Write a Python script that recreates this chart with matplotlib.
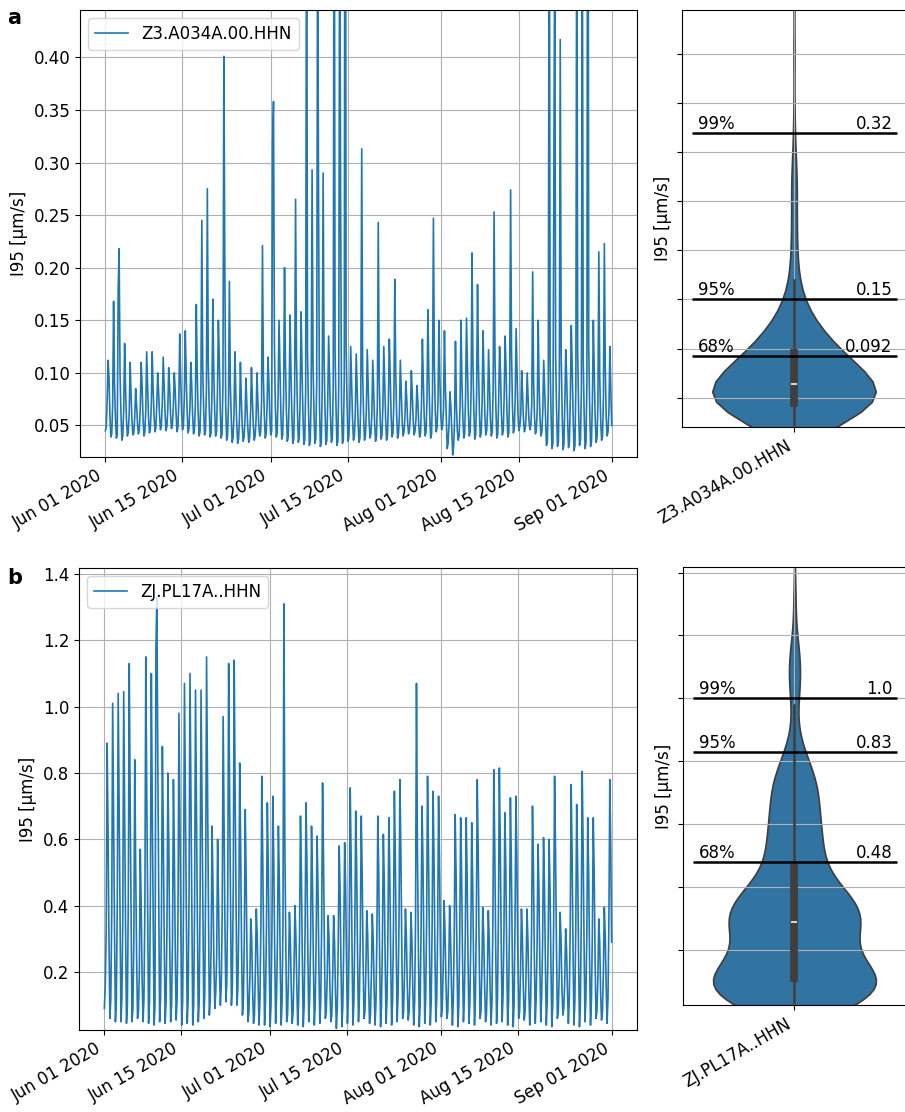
import numpy as np
import pandas as pd
import matplotlib
matplotlib.use("Agg")
import matplotlib.pyplot as plt
import matplotlib.dates as mdates
import seaborn as sns

plt.rcParams["font.family"] = ["DejaVu Sans"]
plt.rcParams["font.size"] = 12

# ---------------------------------------------------------------- data
start_day = "2020-06-01"
hours_of_day = [1, 5, 9, 13, 17, 21]   # one sample every four hours

station_a = "Z3.A034A.00.HHN"
station_b = "ZJ.PL17A..HHN"

# station a, I95 [um/s], one value per day for each time of day
a_night = [0.045, 0.039, 0.038, 0.036, 0.040, 0.041, 0.042, 0.040, 0.043, 0.044,
           0.046, 0.045, 0.047, 0.044, 0.046, 0.043, 0.042, 0.040, 0.041, 0.039,
           0.040, 0.038, 0.036, 0.034, 0.033, 0.035, 0.034, 0.036, 0.040, 0.038,
           0.041, 0.039, 0.037, 0.035, 0.033, 0.034, 0.032, 0.031, 0.033, 0.030,
           0.032, 0.034, 0.031, 0.033, 0.035, 0.036, 0.034, 0.036, 0.038, 0.035,
           0.037, 0.036, 0.039, 0.038, 0.040, 0.042, 0.041, 0.039, 0.040, 0.038,
           0.044, 0.046, 0.028, 0.022, 0.036, 0.038, 0.040, 0.037, 0.039, 0.041,
           0.040, 0.038, 0.041, 0.039, 0.043, 0.045, 0.044, 0.046, 0.042, 0.040,
           0.031, 0.028, 0.030, 0.027, 0.029, 0.026, 0.031, 0.028, 0.030, 0.034,
           0.036, 0.040]
a_dawn = [0.048, 0.042, 0.041, 0.040, 0.044, 0.043, 0.046, 0.044, 0.047, 0.048,
          0.050, 0.049, 0.051, 0.048, 0.050, 0.047, 0.046, 0.044, 0.045, 0.043,
          0.044, 0.042, 0.040, 0.038, 0.037, 0.039, 0.038, 0.040, 0.044, 0.042,
          0.045, 0.043, 0.041, 0.039, 0.037, 0.038, 0.036, 0.035, 0.037, 0.034,
          0.036, 0.038, 0.035, 0.037, 0.039, 0.040, 0.038, 0.040, 0.042, 0.039,
          0.041, 0.040, 0.043, 0.042, 0.044, 0.046, 0.045, 0.043, 0.044, 0.042,
          0.048, 0.050, 0.033, 0.030, 0.040, 0.042, 0.044, 0.041, 0.043, 0.045,
          0.044, 0.042, 0.045, 0.043, 0.047, 0.049, 0.048, 0.050, 0.046, 0.044,
          0.035, 0.033, 0.035, 0.032, 0.034, 0.031, 0.036, 0.033, 0.035, 0.038,
          0.040, 0.044]
a_morning = [0.075, 0.070, 0.180, 0.065, 0.062, 0.058, 0.066, 0.064, 0.068, 0.070,
             0.072, 0.066, 0.068, 0.074, 0.078, 0.066, 0.070, 0.080, 0.085, 0.078,
             0.082, 0.090, 0.070, 0.060, 0.058, 0.056, 0.060, 0.055, 0.072, 0.068,
             0.320, 0.080, 0.078, 0.074, 0.082, 0.076, 0.085, 0.080, 0.090, 0.084,
             0.072, 0.088, 0.090, 0.095, 0.066, 0.062, 0.075, 0.064, 0.060, 0.070,
             0.068, 0.072, 0.074, 0.060, 0.058, 0.062, 0.056, 0.070, 0.075, 0.080,
             0.074, 0.066, 0.052, 0.055, 0.070, 0.078, 0.082, 0.080, 0.072, 0.066,
             0.085, 0.074, 0.078, 0.090, 0.076, 0.060, 0.062, 0.070, 0.066, 0.064,
             0.080, 0.270, 0.090, 0.072, 0.078, 0.088, 0.084, 0.090, 0.074, 0.070,
             0.078, 0.065]
a_midday = [0.112, 0.168, 0.218, 0.128, 0.110, 0.085, 0.110, 0.120, 0.120, 0.100,
            0.115, 0.105, 0.100, 0.137, 0.140, 0.110, 0.165, 0.245, 0.275, 0.170,
            0.150, 0.401, 0.187, 0.120, 0.110, 0.095, 0.105, 0.100, 0.221, 0.115,
            0.358, 0.150, 0.200, 0.155, 0.265, 0.158, 0.620, 0.293, 0.540, 0.290,
            0.135, 0.700, 0.580, 0.950, 0.125, 0.118, 0.313, 0.122, 0.112, 0.243,
            0.125, 0.132, 0.189, 0.112, 0.092, 0.102, 0.088, 0.132, 0.160, 0.247,
            0.150, 0.140, 0.082, 0.130, 0.150, 0.152, 0.214, 0.184, 0.140, 0.122,
            0.253, 0.125, 0.135, 0.274, 0.142, 0.102, 0.100, 0.196, 0.150, 0.112,
            0.650, 0.520, 0.417, 0.122, 0.145, 0.600, 0.560, 0.880, 0.150, 0.215,
            0.223, 0.125]
a_afternoon = [0.095, 0.090, 0.100, 0.085, 0.080, 0.070, 0.088, 0.090, 0.085, 0.082,
               0.090, 0.086, 0.084, 0.095, 0.098, 0.088, 0.100, 0.105, 0.110, 0.100,
               0.115, 0.205, 0.090, 0.080, 0.075, 0.070, 0.076, 0.072, 0.095, 0.090,
               0.125, 0.105, 0.110, 0.100, 0.115, 0.105, 0.120, 0.110, 0.268, 0.115,
               0.095, 0.120, 0.267, 0.125, 0.090, 0.085, 0.100, 0.088, 0.082, 0.095,
               0.090, 0.098, 0.100, 0.082, 0.075, 0.080, 0.074, 0.092, 0.100, 0.110,
               0.095, 0.088, 0.068, 0.070, 0.092, 0.105, 0.110, 0.108, 0.096, 0.088,
               0.115, 0.100, 0.105, 0.120, 0.100, 0.080, 0.078, 0.092, 0.088, 0.085,
               0.110, 0.115, 0.120, 0.095, 0.105, 0.118, 0.112, 0.125, 0.100, 0.095,
               0.105, 0.085]
a_evening = [0.060, 0.058, 0.062, 0.056, 0.055, 0.052, 0.058, 0.057, 0.060, 0.059,
             0.062, 0.060, 0.061, 0.063, 0.064, 0.060, 0.062, 0.065, 0.068, 0.064,
             0.066, 0.070, 0.058, 0.052, 0.050, 0.049, 0.051, 0.050, 0.060, 0.058,
             0.068, 0.062, 0.064, 0.060, 0.066, 0.062, 0.068, 0.064, 0.070, 0.066,
             0.058, 0.068, 0.070, 0.072, 0.056, 0.054, 0.060, 0.055, 0.053, 0.058,
             0.056, 0.059, 0.060, 0.054, 0.052, 0.055, 0.051, 0.058, 0.060, 0.064,
             0.060, 0.058, 0.046, 0.045, 0.058, 0.062, 0.064, 0.063, 0.059, 0.056,
             0.066, 0.060, 0.062, 0.068, 0.061, 0.055, 0.054, 0.058, 0.056, 0.055,
             0.060, 0.064, 0.066, 0.056, 0.060, 0.064, 0.062, 0.068, 0.058, 0.055,
             0.058, 0.050]

# station b, I95 [um/s]
b_night = [0.09, 0.06, 0.05, 0.05, 0.045, 0.05, 0.06, 0.05, 0.045, 0.04,
           0.05, 0.045, 0.05, 0.055, 0.04, 0.045, 0.04, 0.05, 0.06, 0.07,
           0.09, 0.10, 0.11, 0.10, 0.10, 0.07, 0.05, 0.045, 0.04, 0.04,
           0.035, 0.045, 0.04, 0.05, 0.045, 0.04, 0.035, 0.05, 0.04, 0.045,
           0.06, 0.05, 0.03, 0.035, 0.045, 0.04, 0.05, 0.06, 0.045, 0.04,
           0.035, 0.045, 0.04, 0.05, 0.06, 0.055, 0.04, 0.035, 0.045, 0.04,
           0.05, 0.065, 0.06, 0.04, 0.035, 0.05, 0.045, 0.04, 0.06, 0.05,
           0.04, 0.045, 0.05, 0.04, 0.035, 0.06, 0.055, 0.04, 0.045, 0.05,
           0.04, 0.035, 0.06, 0.07, 0.045, 0.04, 0.035, 0.05, 0.04, 0.06,
           0.055, 0.045]
b_dawn = [0.16, 0.12, 0.11, 0.12, 0.10, 0.09, 0.08, 0.12, 0.11, 0.10,
          0.12, 0.11, 0.10, 0.12, 0.11, 0.12, 0.10, 0.11, 0.13, 0.12,
          0.14, 0.16, 0.17, 0.16, 0.15, 0.12, 0.08, 0.07, 0.12, 0.11,
          0.10, 0.12, 0.11, 0.07, 0.08, 0.11, 0.10, 0.12, 0.10, 0.11,
          0.08, 0.07, 0.09, 0.10, 0.12, 0.11, 0.12, 0.08, 0.07, 0.11,
          0.10, 0.12, 0.11, 0.13, 0.08, 0.08, 0.11, 0.10, 0.12, 0.11,
          0.12, 0.09, 0.08, 0.11, 0.10, 0.12, 0.11, 0.12, 0.08, 0.07,
          0.11, 0.12, 0.13, 0.11, 0.10, 0.08, 0.08, 0.11, 0.12, 0.13,
          0.11, 0.10, 0.08, 0.09, 0.12, 0.11, 0.10, 0.12, 0.11, 0.08,
          0.08, 0.12]
b_morning = [0.33, 0.38, 0.40, 0.36, 0.42, 0.30, 0.20, 0.40, 0.44, 1.17,
             0.36, 0.34, 0.30, 0.38, 0.42, 0.45, 0.40, 0.43, 0.46, 0.28,
             0.25, 0.38, 0.44, 0.46, 0.36, 0.30, 0.18, 0.20, 0.34, 0.32,
             0.33, 0.30, 0.35, 0.19, 0.21, 0.31, 0.33, 0.30, 0.29, 0.34,
             0.18, 0.19, 0.28, 0.29, 0.33, 0.32, 0.31, 0.20, 0.19, 0.31,
             0.30, 0.32, 0.34, 0.35, 0.20, 0.19, 0.36, 0.33, 0.35, 0.34,
             0.33, 0.21, 0.20, 0.31, 0.32, 0.31, 0.30, 0.35, 0.20, 0.19,
             0.36, 0.37, 0.32, 0.33, 0.34, 0.20, 0.19, 0.32, 0.28, 0.29,
             0.29, 0.35, 0.19, 0.17, 0.34, 0.33, 0.36, 0.31, 0.31, 0.18,
             0.20, 0.35]
b_midday = [0.89, 1.01, 1.04, 1.045, 1.13, 0.84, 0.57, 1.15, 1.10, 1.33,
            0.88, 0.80, 0.78, 0.98, 1.07, 1.10, 1.05, 1.05, 1.15, 0.64,
            0.60, 0.97, 1.13, 1.14, 0.83, 0.69, 0.36, 0.39, 0.79, 0.71,
            0.73, 0.64, 1.31, 0.38, 0.40, 0.67, 0.71, 0.64, 0.61, 0.77,
            0.37, 0.37, 0.58, 0.59, 0.755, 0.685, 0.67, 0.385, 0.375, 0.67,
            0.615, 0.665, 0.745, 0.78, 0.39, 0.38, 1.07, 0.70, 0.79, 0.745,
            0.73, 0.415, 0.40, 0.675, 0.665, 0.665, 0.65, 0.78, 0.395, 0.385,
            0.81, 0.815, 0.68, 0.725, 0.73, 0.39, 0.39, 0.70, 0.585, 0.605,
            0.60, 0.79, 0.38, 0.33, 0.765, 0.705, 0.805, 0.665, 0.665, 0.36,
            0.395, 0.78]
b_afternoon = [0.62, 0.66, 0.70, 0.68, 0.72, 0.52, 0.40, 0.75, 0.70, 0.85,
               0.62, 0.58, 0.56, 0.66, 0.72, 0.74, 0.70, 0.72, 0.76, 0.45,
               0.42, 0.65, 0.74, 0.75, 0.58, 0.48, 0.30, 0.31, 0.55, 0.52,
               0.53, 0.48, 0.60, 0.30, 0.31, 0.50, 0.53, 0.48, 0.46, 0.55,
               0.30, 0.29, 0.45, 0.46, 0.55, 0.52, 0.50, 0.31, 0.30, 0.50,
               0.47, 0.50, 0.55, 0.57, 0.31, 0.30, 0.58, 0.54, 0.57, 0.55,
               0.54, 0.32, 0.31, 0.50, 0.50, 0.49, 0.48, 0.57, 0.31, 0.30,
               0.58, 0.59, 0.52, 0.54, 0.55, 0.31, 0.30, 0.52, 0.45, 0.46,
               0.46, 0.57, 0.30, 0.27, 0.56, 0.53, 0.58, 0.50, 0.50, 0.29,
               0.31, 0.57]
b_evening = [0.30, 0.33, 0.36, 0.34, 0.38, 0.25, 0.18, 0.40, 0.36, 0.45,
             0.30, 0.28, 0.26, 0.33, 0.38, 0.40, 0.36, 0.38, 0.41, 0.22,
             0.20, 0.33, 0.40, 0.41, 0.28, 0.23, 0.15, 0.16, 0.27, 0.25,
             0.26, 0.23, 0.30, 0.15, 0.16, 0.24, 0.26, 0.23, 0.22, 0.27,
             0.15, 0.14, 0.22, 0.23, 0.27, 0.25, 0.24, 0.16, 0.15, 0.24,
             0.23, 0.24, 0.27, 0.29, 0.16, 0.15, 0.29, 0.27, 0.29, 0.27,
             0.27, 0.17, 0.16, 0.24, 0.24, 0.23, 0.23, 0.29, 0.16, 0.15,
             0.29, 0.30, 0.25, 0.27, 0.27, 0.16, 0.15, 0.25, 0.22, 0.23,
             0.23, 0.29, 0.15, 0.14, 0.28, 0.26, 0.29, 0.24, 0.24, 0.14,
             0.16, 0.29]

percentile_names = ["68%", "95%", "99%"]
a_percentiles = [0.092, 0.15, 0.32]
b_percentiles = [0.48, 0.83, 1.0]

a_ylim = (0.020, 0.445)
b_ylim = (0.025, 1.418)


def build_series(*columns):
    days = pd.date_range(start_day, periods=len(columns[0]), freq="D")
    times = [d + pd.Timedelta(hours=h) for d in days for h in hours_of_day]
    values = np.column_stack(columns).ravel()
    return pd.Series(values, index=pd.DatetimeIndex(times))


def draw_panel(ax_ts, ax_vn, s, name, ylim, pct_values, bw_adjust):
    # time series
    ax_ts.plot(s.index, s.values, color="tab:blue", lw=1.2, label=name)
    ax_ts.set_ylim(*ylim)
    ax_ts.set_ylabel("I95 [µm/s]")
    ax_ts.grid(True)
    ax_ts.legend(loc="upper left")
    ax_ts.xaxis.set_major_locator(mdates.DayLocator(bymonthday=[1, 15]))
    ax_ts.xaxis.set_major_formatter(mdates.DateFormatter("%b %d %Y"))
    plt.setp(ax_ts.get_xticklabels(), rotation=30, ha="right")

    # distribution
    sns.violinplot(y=s.values, ax=ax_vn, inner="box", width=0.73,
                   bw_adjust=bw_adjust, color="tab:blue")
    ax_vn.set_xlim(-0.5, 0.5)
    ax_vn.set_yticks(ax_ts.get_yticks())
    ax_vn.set_ylim(*ylim)
    ax_vn.tick_params(labelleft=False)
    ax_vn.set_ylabel("I95 [µm/s]")
    ax_vn.set_xticks([0])
    ax_vn.set_xticklabels([name], rotation=30, ha="right")
    ax_vn.grid(True)
    for lab, v in zip(percentile_names, pct_values):
        ax_vn.hlines(v, -0.455, 0.46, color="black", lw=1.8, zorder=6)
        ax_vn.text(-0.43, v, lab, ha="left", va="bottom", zorder=7)
        ax_vn.text(0.44, v, f"{v:#.2g}", ha="right", va="bottom", zorder=7)


series_a = build_series(a_night, a_dawn, a_morning, a_midday, a_afternoon, a_evening)
series_b = build_series(b_night, b_dawn, b_morning, b_midday, b_afternoon, b_evening)

fig = plt.figure(figsize=(9.05, 11.12), dpi=100)
ax_a = fig.add_axes([0.0884, 0.589, 0.6155, 0.402])
ax_av = fig.add_axes([0.7536, 0.616, 0.2475, 0.375])
ax_b = fig.add_axes([0.0873, 0.0737, 0.6166, 0.4155])
ax_bv = fig.add_axes([0.7547, 0.0962, 0.2464, 0.394])

draw_panel(ax_a, ax_av, series_a, station_a, a_ylim, a_percentiles, 0.9)
draw_panel(ax_b, ax_bv, series_b, station_b, b_ylim, b_percentiles, 1.0)

fig.text(0.008, 0.984, "a", fontsize=15, fontweight="bold", va="center")
fig.text(0.008, 0.480, "b", fontsize=15, fontweight="bold", va="center")

fig.savefig("out.png", dpi=100)
